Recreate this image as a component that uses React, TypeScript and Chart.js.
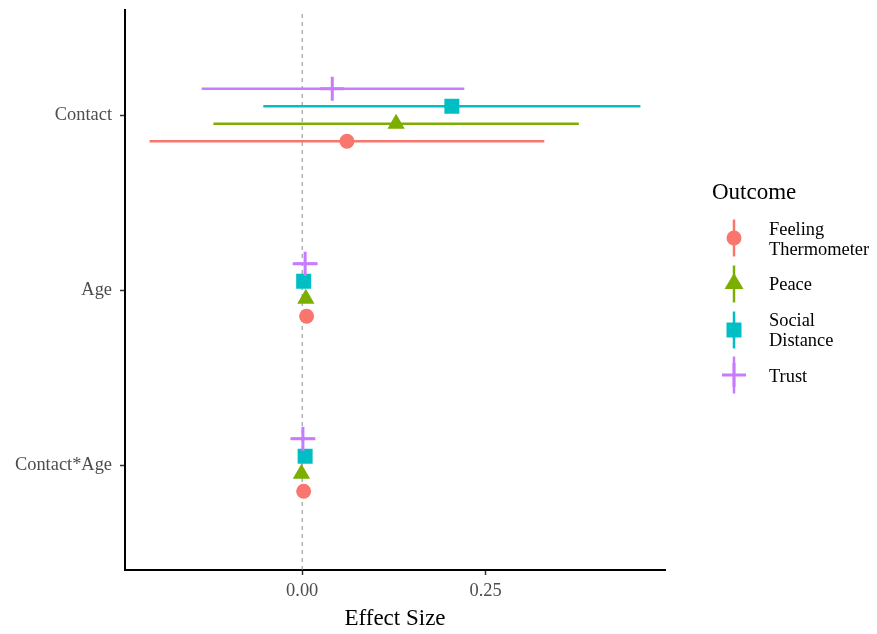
import React, { useEffect, useRef } from "react";
import { Chart, registerables } from "chart.js";
Chart.register(...registerables);

const terms = ["Contact", "Age", "Contact*Age"];
const termPositions = [3, 2, 1];
const outcomes = ["Feeling Thermometer", "Peace", "Social Distance", "Trust"];
const outcomeLabelLines = [["Feeling", "Thermometer"], ["Peace"], ["Social", "Distance"], ["Trust"]];
const colors = ["#F8766D", "#7CAE00", "#00BFC4", "#C77CFF"];
const dodge = [-0.15, -0.05, 0.05, 0.15];
const xTicks = [0, 0.25];

// estimates and CIs per term (Contact, Age, Contact*Age)
const feelingEst = [0.061, 0.006, 0.002];
const feelingLow = [-0.208, 0.001, -0.003];
const feelingHigh = [0.33, 0.011, 0.007];

const peaceEst = [0.128, 0.005, -0.001];
const peaceLow = [-0.121, 0.0, -0.006];
const peaceHigh = [0.377, 0.01, 0.004];

const socialEst = [0.204, 0.002, 0.004];
const socialLow = [-0.053, -0.003, -0.001];
const socialHigh = [0.461, 0.007, 0.009];

const trustEst = [0.041, 0.004, 0.001];
const trustLow = [-0.137, -0.013, -0.016];
const trustHigh = [0.221, 0.021, 0.018];

const estimates = [feelingEst, peaceEst, socialEst, trustEst];
const lows = [feelingLow, peaceLow, socialLow, trustLow];
const highs = [feelingHigh, peaceHigh, socialHigh, trustHigh];

const SERIF = '"Liberation Serif", "Times New Roman", serif';

const pointStyles = ["circle", "triangle", "rect", "cross"];
const pointRadii = [7.5, 10, 10.6, 12];

export default function App() {
  const ref = useRef<HTMLCanvasElement | null>(null);

  useEffect(() => {
    if (!ref.current) return;
    const datasets: any[] = [];
    // zero reference line
    datasets.push({
      type: "scatter",
      data: [
        { x: 0, y: 0.4 },
        { x: 0, y: 3.6 },
      ],
      showLine: true,
      borderColor: "#8c8c8c",
      borderWidth: 1,
      borderDash: [4, 4],
      pointRadius: 0,
      order: 100,
    });
    outcomes.forEach((name, s) => {
      const base = (3 - s) * 2;
      termPositions.forEach((pos, t) => {
        const y = pos + dodge[s];
        datasets.push({
          type: "scatter",
          label: name + " CI " + terms[t],
          data: [
            { x: lows[s][t], y },
            { x: highs[s][t], y },
          ],
          showLine: true,
          borderColor: colors[s],
          borderWidth: 2.5,
          pointRadius: 0,
          order: base + 1,
        });
      });
      datasets.push({
        type: "scatter",
        label: name,
        data: termPositions.map((pos, t) => ({ x: estimates[s][t], y: pos + dodge[s] })),
        pointStyle: pointStyles[s],
        pointRadius: pointRadii[s],
        backgroundColor: colors[s],
        borderColor: colors[s],
        borderWidth: s === 3 ? 3 : 0,
        order: base,
      });
    });

    const chart = new Chart(ref.current, {
      type: "scatter",
      data: { datasets },
      options: {
        animation: false,
        responsive: false,
        devicePixelRatio: 1,
        layout: { autoPadding: false, padding: { left: 0, top: 10, right: 212, bottom: 0 } },
        plugins: {
          legend: { display: false },
          tooltip: { enabled: false },
        },
        scales: {
          x: {
            type: "linear",
            min: -0.2415,
            max: 0.4945,
            afterBuildTicks: (scale: any) => {
              scale.ticks = xTicks.map((v) => ({ value: v }));
            },
            afterFit: (scale: any) => {
              scale.height = 64;
              scale.paddingLeft = 0;
              scale.paddingRight = 0;
            },
            ticks: {
              callback: (v: any) => Number(v).toFixed(2),
              color: "#4D4D4D",
              font: { family: SERIF, size: 18.4 },
              padding: 5,
              maxRotation: 0,
            },
            grid: {
              drawOnChartArea: false,
              drawTicks: true,
              tickLength: 5,
              tickColor: "#333333",
              tickWidth: 1.5,
            },
            border: { display: true, color: "#000000", width: 2 },
            title: {
              display: true,
              text: "Effect Size",
              color: "#000000",
              font: { family: SERIF, size: 23 },
              padding: { top: 2, bottom: 1 },
            },
          },
          y: {
            type: "linear",
            min: 0.4,
            max: 3.6,
            afterBuildTicks: (scale: any) => {
              scale.ticks = termPositions.map((v) => ({ value: v }));
            },
            afterFit: (scale: any) => {
              scale.width = 125;
              scale.paddingTop = 0;
              scale.paddingBottom = 0;
            },
            ticks: {
              callback: (v: any) => {
                const i = termPositions.indexOf(Number(v));
                return i >= 0 ? terms[i] : "";
              },
              color: "#4D4D4D",
              font: { family: SERIF, size: 18.4 },
              padding: 8,
            },
            grid: {
              drawOnChartArea: false,
              drawTicks: true,
              tickLength: 5,
              tickColor: "#333333",
              tickWidth: 1.5,
            },
            border: { display: true, color: "#000000", width: 2 },
          },
        },
      } as any,
    });
    return () => chart.destroy();
  }, []);

  const itemCenters = [238, 284, 330, 375];
  const labelTops = [219, 274, 310, 366];

  const glyph = (s: number) => {
    const c = colors[s];
    let marker: any = null;
    if (s === 0) marker = <circle cx={20} cy={20} r={7.5} fill={c} />;
    if (s === 1) marker = <polygon points="20,9 29.5,25 10.5,25" fill={c} />;
    if (s === 2) marker = <rect x={12.5} y={12.5} width={15} height={15} fill={c} />;
    if (s === 3)
      marker = (
        <g stroke={c} strokeWidth={3}>
          <line x1={8} y1={20} x2={32} y2={20} />
          <line x1={20} y1={8} x2={20} y2={32} />
        </g>
      );
    return (
      <svg width={40} height={40} style={{ position: "absolute", left: 714, top: itemCenters[s] - 20 }}>
        <line x1={20} y1={1.5} x2={20} y2={38.5} stroke={c} strokeWidth={2.5} />
        {marker}
      </svg>
    );
  };

  return (
    <div style={{ position: "fixed", left: 0, top: 0, width: 877, height: 634, background: "#ffffff" }}>
      <canvas ref={ref} width={877} height={634} style={{ display: "block", width: 877, height: 634 }} />
      <div
        style={{
          position: "absolute",
          left: 712,
          top: 180,
          fontFamily: SERIF,
          fontSize: 23,
          lineHeight: "23px",
          color: "#000000",
          whiteSpace: "nowrap",
        }}
      >
        Outcome
      </div>
      {outcomes.map((name, s) => (
        <React.Fragment key={name}>
          {glyph(s)}
          <div
            style={{
              position: "absolute",
              left: 769,
              top: labelTops[s],
              fontFamily: SERIF,
              fontSize: 18.4,
              lineHeight: "20px",
              color: "#000000",
              whiteSpace: "nowrap",
            }}
          >
            {outcomeLabelLines[s].map((line, i) => (
              <div key={i}>{line}</div>
            ))}
          </div>
        </React.Fragment>
      ))}
    </div>
  );
}
